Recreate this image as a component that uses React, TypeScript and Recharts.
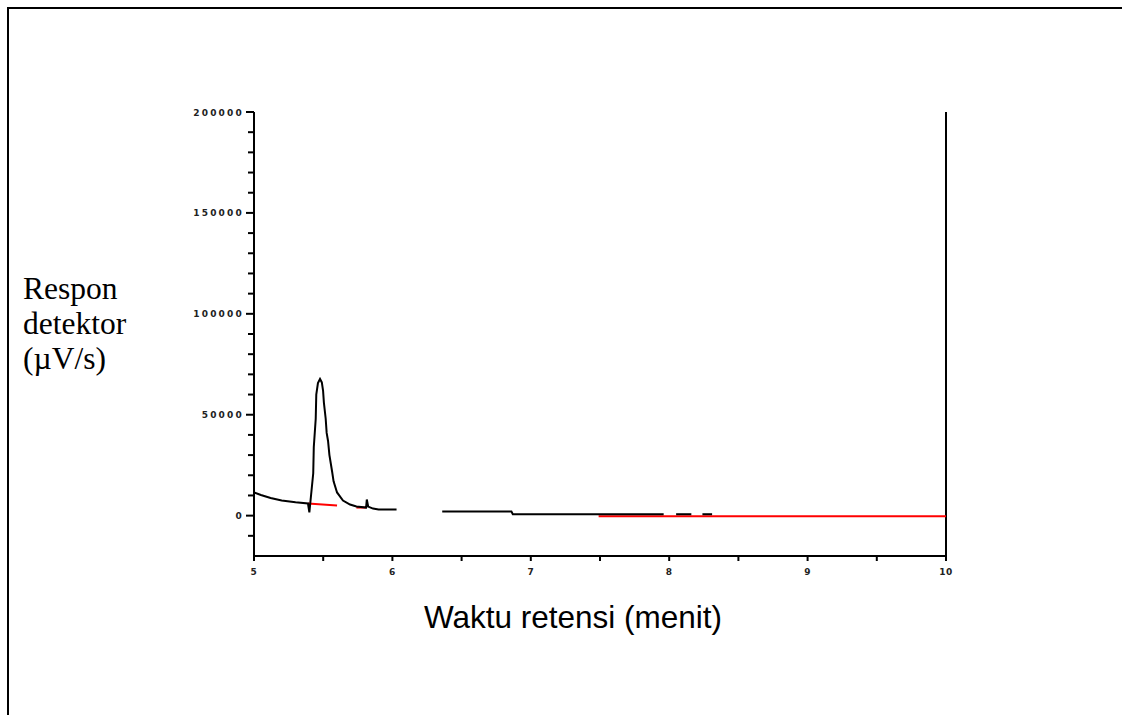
import { LineChart, Line, XAxis, YAxis, ReferenceLine } from "recharts"

// retention time (menit) vs detector response (µV/s)
const traceMain = [
    { t: 5.0, v: 11500 },
    { t: 5.05, v: 10200 },
    { t: 5.12, v: 8700 },
    { t: 5.2, v: 7500 },
    { t: 5.3, v: 6600 },
    { t: 5.39, v: 6000 },
    { t: 5.4, v: 1600 },
    { t: 5.428, v: 21000 },
    { t: 5.432, v: 34000 },
    { t: 5.446, v: 48000 },
    { t: 5.45, v: 60000 },
    { t: 5.462, v: 65700 },
    { t: 5.477, v: 67700 },
    { t: 5.49, v: 66000 },
    { t: 5.499, v: 62000 },
    { t: 5.505, v: 56000 },
    { t: 5.518, v: 48000 },
    { t: 5.525, v: 41000 },
    { t: 5.535, v: 37000 },
    { t: 5.545, v: 30000 },
    { t: 5.564, v: 22000 },
    { t: 5.575, v: 17000 },
    { t: 5.6, v: 11500 },
    { t: 5.643, v: 7500 },
    { t: 5.694, v: 5500 },
    { t: 5.74, v: 4500 },
    { t: 5.81, v: 4000 },
    { t: 5.815, v: 8000 },
    { t: 5.825, v: 4500 },
    { t: 5.86, v: 3500 },
    { t: 5.9, v: 3000 },
    { t: 6.03, v: 3000 },
]
const traceMid = [
    { t: 6.36, v: 2000 },
    { t: 6.86, v: 2000 },
    { t: 6.87, v: 700 },
    { t: 7.96, v: 700 },
]
const traceDash1 = [
    { t: 8.05, v: 700 },
    { t: 8.16, v: 700 },
]
const traceDash2 = [
    { t: 8.24, v: 700 },
    { t: 8.31, v: 700 },
]

// integration baselines (red)
const base1 = [
    { t: 5.39, v: 6000 },
    { t: 5.6, v: 5000 },
]
const base2 = [
    { t: 5.74, v: 4000 },
    { t: 5.81, v: 4000 },
]
const base3 = [
    { t: 7.49, v: -300 },
    { t: 10, v: -300 },
]

const timeTicks = [5, 5.5, 6, 6.5, 7, 7.5, 8, 8.5, 9, 9.5, 10]
const responseTicks = [
    -10000, 0, 10000, 20000, 30000, 40000, 50000, 60000, 70000, 80000, 90000, 100000,
    110000, 120000, 130000, 140000, 150000, 160000, 170000, 180000, 190000, 200000,
]
const responseLabels = [0, 50000, 100000, 150000, 200000]

const tickFont = { fontFamily: "DejaVu Sans", fontSize: 9, fontWeight: 700, letterSpacing: 2.2, fill: "#222" }

function YTick(props: any) {
    const { x, y, payload } = props
    const major = responseLabels.includes(payload.value)
    return (
        <g>
            <line x1={x - (major ? 8 : 6)} x2={x} y1={y} y2={y} stroke="#000" strokeWidth={2} />
            {major && (
                <text x={x - 10} y={y} dy={3.5} textAnchor="end" {...tickFont}>
                    {payload.value}
                </text>
            )}
        </g>
    )
}

function XTick(props: any) {
    const { x, y, payload } = props
    const major = Number.isInteger(payload.value)
    return (
        <g>
            <line x1={x} x2={x} y1={y} y2={y + 5} stroke="#000" strokeWidth={2} />
            {major && (
                <text x={x} y={y + 19} textAnchor="middle" {...tickFont} letterSpacing={0.5}>
                    {payload.value}
                </text>
            )}
        </g>
    )
}

function XTitle({ viewBox }: any) {
    return (
        <text
            x={viewBox.x + viewBox.width / 2 - 27}
            y={viewBox.y + 72}
            textAnchor="middle"
            fontFamily="Liberation Sans"
            fontSize={31.5}
            fill="#000"
        >
            Waktu retensi (menit)
        </text>
    )
}

function YTitle({ viewBox }: any) {
    const mid = viewBox.y + viewBox.height / 2
    const x = viewBox.x - 151
    return (
        <text x={x} y={mid} fontFamily="Liberation Serif" fontSize={31.5} fill="#000">
            <tspan x={x} dy={-35}>Respon</tspan>
            <tspan x={x} dy={35}>detektor</tspan>
            <tspan x={x} dy={35}>(µV/s)</tspan>
        </text>
    )
}

export default function App() {
    const line = (data: any[], color: string, key: string) => (
        <Line
            key={key}
            data={data}
            dataKey="v"
            type="linear"
            stroke={color}
            strokeWidth={2}
            dot={false}
            activeDot={false}
            isAnimationActive={false}
        />
    )

    return (
        <div style={{ position: "fixed", left: 0, top: 0, width: 1122, height: 715, background: "#fff", overflow: "hidden" }}>
            <div
                style={{
                    position: "absolute",
                    left: 7,
                    top: 7,
                    width: 1115,
                    height: 708,
                    borderTop: "2px solid #000",
                    borderLeft: "2px solid #000",
                    boxSizing: "border-box",
                }}
            />
            <div style={{ position: "absolute", left: 0, top: 0 }}>
                <LineChart width={1122} height={715} margin={{ top: 112, right: 176, bottom: 129, left: 174 }}>
                    <XAxis
                        type="number"
                        dataKey="t"
                        domain={[5, 10]}
                        ticks={timeTicks}
                        interval={0}
                        height={30}
                        tickSize={0}
                        tickMargin={0}
                        tickLine={false}
                        tick={<XTick />}
                        axisLine={{ stroke: "#000", strokeWidth: 2 }}
                        allowDataOverflow
                        label={<XTitle />}
                    />
                    <YAxis
                        type="number"
                        domain={[-20000, 200000]}
                        ticks={responseTicks}
                        interval={0}
                        width={80}
                        tickSize={0}
                        tickMargin={0}
                        tickLine={false}
                        tick={<YTick />}
                        axisLine={{ stroke: "#000", strokeWidth: 2 }}
                        allowDataOverflow
                        label={<YTitle />}
                    />
                    <ReferenceLine x={10} stroke="#000" strokeWidth={2} />
                    {line(base1, "#ff0000", "b1")}
                    {line(base2, "#ff0000", "b2")}
                    {line(base3, "#ff0000", "b3")}
                    {line(traceMain, "#000", "t1")}
                    {line(traceMid, "#000", "t2")}
                    {line(traceDash1, "#000", "t3")}
                    {line(traceDash2, "#000", "t4")}
                </LineChart>
            </div>
        </div>
    )
}
